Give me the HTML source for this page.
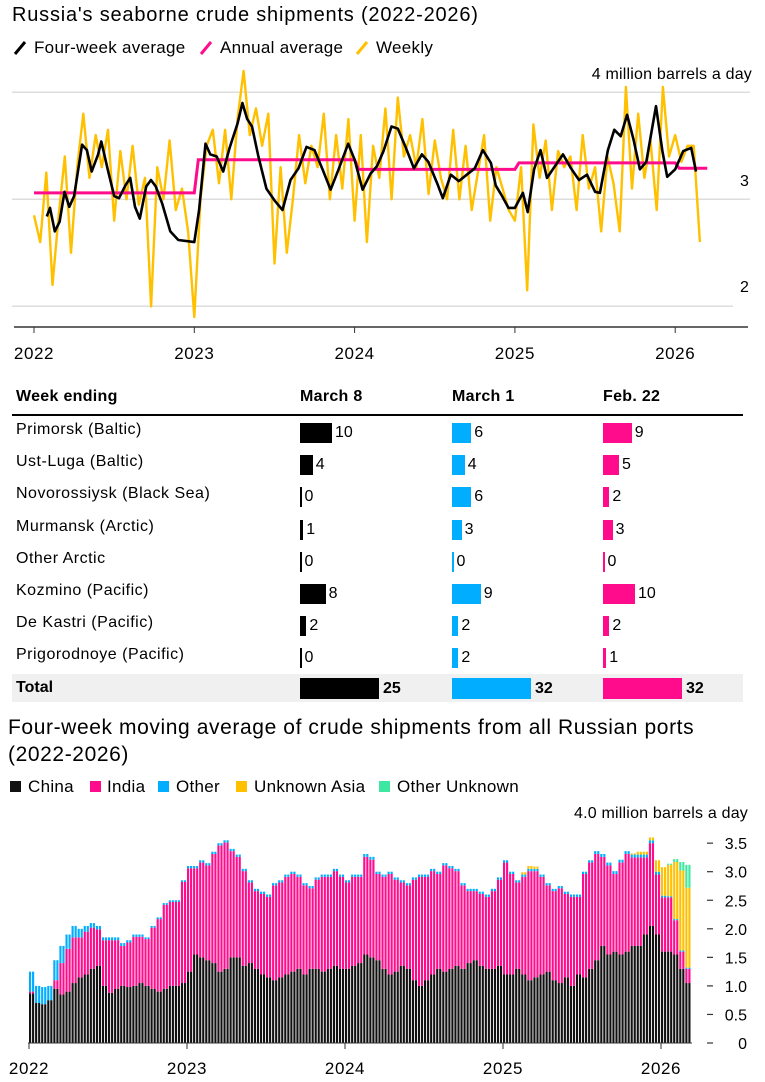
<!DOCTYPE html>
<html><head><meta charset="utf-8">
<style>
body{margin:0;width:765px;height:1082px;background:#fff;font-family:"Liberation Sans",sans-serif;color:#000;position:relative;overflow:hidden}
.t{position:absolute;white-space:nowrap}
svg{position:absolute;left:0;top:0}
</style></head><body>
<div class="t" style="left:12px;top:4px;font-size:20px;letter-spacing:0.8px">Russia's seaborne crude shipments (2022-2026)</div>
<div>
<svg width="765" height="60" style="top:0">
<line x1="15" y1="54" x2="25" y2="42" stroke="#000" stroke-width="3"/>
<line x1="201" y1="54" x2="211" y2="42" stroke="#ff0c8c" stroke-width="3"/>
<line x1="357" y1="54" x2="367" y2="42" stroke="#ffc000" stroke-width="3"/>
</svg>
<div class="t" style="left:34px;top:38px;font-size:17px;letter-spacing:0.3px">Four-week average</div>
<div class="t" style="left:220px;top:38px;font-size:17px;letter-spacing:0.3px">Annual average</div>
<div class="t" style="left:376px;top:38px;font-size:17px;letter-spacing:0.3px">Weekly</div>
</div>
<svg id="topchart" width="765" height="370"></svg>
<div class="t" style="right:13px;top:66px;font-size:16px;letter-spacing:0.2px">4 million barrels a day</div>
<div class="t" style="left:740px;top:173px;font-size:16px">3</div>
<div class="t" style="left:740px;top:279px;font-size:16px">2</div>

<div id="table"></div>

<div class="t" style="left:8px;top:714px;font-size:21px;letter-spacing:0.6px;line-height:27px">Four-week moving average of crude shipments from all Russian ports<br>(2022-2026)</div>
<div>
<div class="t" style="left:10px;top:781px;width:11px;height:11px;background:#111"></div>
<div class="t" style="left:28px;top:777px;font-size:17px;letter-spacing:0.3px">China</div>
<div class="t" style="left:90px;top:781px;width:11px;height:11px;background:#ff0c8c"></div>
<div class="t" style="left:107px;top:777px;font-size:17px;letter-spacing:0.3px">India</div>
<div class="t" style="left:158px;top:781px;width:11px;height:11px;background:#00adff"></div>
<div class="t" style="left:176px;top:777px;font-size:17px;letter-spacing:0.3px">Other</div>
<div class="t" style="left:236px;top:781px;width:11px;height:11px;background:#ffc000"></div>
<div class="t" style="left:254px;top:777px;font-size:17px;letter-spacing:0.3px">Unknown Asia</div>
<div class="t" style="left:379px;top:781px;width:11px;height:11px;background:#3ee8a0"></div>
<div class="t" style="left:397px;top:777px;font-size:17px;letter-spacing:0.3px">Other Unknown</div>
</div>
<div class="t" style="right:17px;top:805px;font-size:16px;letter-spacing:0.2px">4.0 million barrels a day</div>
<svg id="botchart" width="765" height="1082"></svg>

<script>
// ---- top chart data ----
const annualYears=[2022,2023,2024,2025,2026];
const annualVals=[3.06,3.37,3.28,3.34,3.29];
const avgDates=[2022.08,2022.1,2022.13,2022.16,2022.19,2022.22,2022.25,2022.3,2022.33,2022.36,2022.4,2022.42,2022.46,2022.5,2022.53,2022.57,2022.6,2022.63,2022.66,2022.7,2022.73,2022.76,2022.8,2022.85,2022.9,2023.0,2023.03,2023.07,2023.1,2023.14,2023.18,2023.22,2023.27,2023.3,2023.33,2023.36,2023.4,2023.45,2023.5,2023.55,2023.6,2023.65,2023.7,2023.75,2023.8,2023.85,2023.9,2023.96,2024.0,2024.05,2024.1,2024.14,2024.18,2024.23,2024.27,2024.32,2024.37,2024.42,2024.46,2024.52,2024.55,2024.6,2024.65,2024.7,2024.75,2024.8,2024.85,2024.88,2024.92,2024.96,2025.0,2025.05,2025.08,2025.12,2025.16,2025.2,2025.25,2025.3,2025.35,2025.4,2025.45,2025.5,2025.53,2025.58,2025.62,2025.66,2025.7,2025.74,2025.78,2025.82,2025.86,2025.88,2025.92,2025.95,2026.0,2026.05,2026.1,2026.13];
const avgVals=[2.84,2.92,2.70,2.79,3.07,2.93,3.03,3.51,3.46,3.26,3.42,3.54,3.28,3.03,3.01,3.13,3.20,2.93,2.82,3.12,3.18,3.12,2.96,2.70,2.62,2.60,2.90,3.52,3.42,3.40,3.26,3.48,3.71,3.90,3.75,3.68,3.40,3.10,2.99,2.90,3.18,3.29,3.49,3.46,3.28,3.09,3.28,3.52,3.37,3.09,3.24,3.31,3.45,3.68,3.66,3.48,3.29,3.42,3.35,3.13,3.01,3.23,3.17,3.23,3.29,3.46,3.34,3.13,3.03,2.92,2.92,3.06,2.88,3.28,3.46,3.20,3.31,3.42,3.29,3.18,3.23,3.07,3.06,3.46,3.65,3.59,3.79,3.56,3.28,3.35,3.70,3.87,3.45,3.21,3.28,3.45,3.48,3.26];
const weeklyVals=[2.85,2.6,3.25,2.2,2.85,3.4,2.5,3.3,3.8,3.2,3.6,3.3,3.65,2.8,3.45,3.0,3.5,2.95,3.2,2.0,3.3,3.0,3.55,2.9,3.1,2.7,
1.9,3.0,3.5,3.65,3.15,3.65,3.0,3.75,4.2,3.6,3.85,3.5,3.8,2.4,3.3,2.5,3.0,3.6,3.15,3.5,3.3,3.8,3.0,3.6,3.1,3.75,
2.8,3.6,2.6,3.5,3.2,3.85,3.0,3.95,3.4,3.6,3.3,3.75,3.05,3.55,3.2,3.0,3.65,3.0,3.5,2.9,3.25,3.6,2.8,3.3,3.1,2.9,
2.8,3.3,2.15,3.7,3.2,3.55,2.9,3.45,3.3,3.4,2.9,3.6,3.1,3.3,2.7,3.4,3.15,2.7,4.05,3.1,3.8,3.2,3.55,2.9,4.05,3.4,
3.6,3.35,3.5,3.5,2.6];
const yearTicks=[2022,2023,2024,2025,2026];

// ---- table data ----
const ports=["Primorsk (Baltic)","Ust-Luga (Baltic)","Novorossiysk (Black Sea)","Murmansk (Arctic)","Other Arctic","Kozmino (Pacific)","De Kastri (Pacific)","Prigorodnoye (Pacific)"];
const weekLabels=["March 8","March 1","Feb. 22"];
const mar8=[10,4,0,1,0,8,2,0];
const mar1=[6,4,6,3,0,9,2,2];
const feb22=[9,5,2,3,0,10,2,1];
const totals=[25,32,32];

// ---- bottom chart data (biweekly from 2022) ----
const china=[0.87,0.7,0.68,0.75,0.95,0.85,0.9,1.05,1.15,1.2,1.3,1.35,1.0,0.88,0.95,1.0,0.98,1.0,1.05,1.0,0.95,0.9,0.95,1.0,1.0,1.05,
1.25,1.55,1.5,1.45,1.4,1.25,1.3,1.5,1.5,1.35,1.4,1.3,1.2,1.15,1.1,1.15,1.2,1.25,1.3,1.2,1.3,1.3,1.25,1.3,1.35,1.3,
1.3,1.35,1.4,1.55,1.5,1.45,1.3,1.2,1.25,1.35,1.3,1.1,1.0,1.1,1.2,1.3,1.25,1.3,1.35,1.3,1.4,1.45,1.35,1.3,1.3,1.35,
1.2,1.2,1.3,1.2,1.1,1.15,1.2,1.25,1.1,1.05,1.15,1.0,1.2,1.15,1.3,1.45,1.7,1.55,1.6,1.55,1.6,1.7,1.7,1.9,2.05,1.9,
1.6,1.6,1.55,1.3,1.05];
const india=[0.03,0,0,0,0.15,0.55,0.75,0.8,0.7,0.75,0.72,0.64,0.8,0.92,0.85,0.7,0.78,0.86,0.81,0.82,1.07,1.27,1.47,1.47,1.47,1.77,
1.81,1.51,1.66,1.66,1.91,2.21,2.21,1.86,1.76,1.66,1.41,1.36,1.41,1.41,1.66,1.66,1.71,1.71,1.61,1.56,1.41,1.56,1.66,1.61,1.66,1.61,
1.51,1.56,1.51,1.71,1.71,1.51,1.61,1.76,1.61,1.46,1.46,1.76,1.91,1.81,1.81,1.66,1.86,1.76,1.66,1.46,1.26,1.21,1.26,1.26,1.36,1.51,
1.96,1.76,1.51,1.71,1.91,1.86,1.71,1.51,1.56,1.66,1.46,1.56,1.36,1.81,1.86,1.86,1.56,1.56,1.36,1.61,1.71,1.55,1.55,1.35,1.45,1.05,
0.95,0.95,0.6,0.3,0.25];
const other=[0.35,0.3,0.3,0.25,0.35,0.3,0.25,0.2,0.15,0.1,0.08,0.06,0.05,0.05,0.05,0.05,0.04,0.04,0.04,0.03,0.03,0.03,0.03,0.03,0.03,0.03,
0.04,0.04,0.04,0.04,0.04,0.04,0.04,0.04,0.04,0.04,0.04,0.04,0.04,0.04,0.04,0.04,0.04,0.04,0.04,0.04,0.04,0.04,0.04,0.04,0.04,0.04,
0.04,0.04,0.04,0.05,0.05,0.04,0.04,0.04,0.04,0.04,0.04,0.04,0.04,0.04,0.04,0.04,0.04,0.04,0.04,0.04,0.04,0.04,0.04,0.04,0.04,0.04,
0.04,0.04,0.04,0.04,0.04,0.04,0.04,0.04,0.04,0.04,0.04,0.04,0.04,0.04,0.04,0.05,0.05,0.05,0.05,0.05,0.05,0.05,0.05,0.05,0.05,0.05,
0.03,0.02,0.02,0.02,0.02];
const unkAsia=[0,0,0,0,0,0,0,0,0,0,0,0,0,0,0,0,0,0,0,0,0,0,0,0,0,0,
0,0,0,0,0,0,0,0,0,0,0,0,0,0,0,0,0,0,0,0,0,0,0,0,0,0,
0,0,0,0,0,0,0,0,0,0,0,0,0,0,0,0,0,0,0,0,0,0,0,0,0,0,
0,0,0,0.04,0.05,0.04,0,0,0,0,0,0,0,0,0,0,0,0,0,0,0,0.02,0.05,0.05,0.05,0.2,
0.5,0.55,1.0,1.4,1.4];
const otherUnk=[0,0,0,0,0,0,0,0,0,0,0,0,0,0,0,0,0,0,0,0,0,0,0,0,0,0,
0,0,0,0,0,0,0,0,0,0,0,0,0,0,0,0,0,0,0,0,0,0,0,0,0,0,
0,0,0,0,0,0,0,0,0,0,0,0,0,0,0,0,0,0,0,0,0,0,0,0,0,0,
0,0,0,0,0,0,0,0,0,0,0,0,0,0,0,0,0,0,0,0,0,0,0,0,0,0,
0,0.02,0.05,0.15,0.4];
const botTicks=["0","0.5","1.0","1.5","2.0","2.5","3.0","3.5"];

const NS="http://www.w3.org/2000/svg";
function mk(parent,tag,attrs,name){const e=document.createElementNS(NS,tag);for(const k in attrs)e.setAttribute(k,attrs[k]);


parent.appendChild(e);return e;}

// top chart
const topSvg=document.getElementById('topchart');
const tx=t=>34+(t-2022)*160.3;
const ty=v=>199.3-(v-3)*107;
[[4,750],[3,750],[2,733]].forEach(g=>mk(topSvg,'line',{x1:12,x2:g[1],y1:ty(g[0]),y2:ty(g[0]),stroke:'#ddd','stroke-width':1.5},'gridline'));
mk(topSvg,'line',{x1:14,x2:748,y1:327,y2:327,stroke:'#333','stroke-width':1.5},'x-axis');
yearTicks.forEach(y=>{mk(topSvg,'line',{x1:tx(y),x2:tx(y),y1:327,y2:333,stroke:'#333','stroke-width':1},'x-tick');
const t=mk(topSvg,'text',{x:tx(y),y:359,'text-anchor':'middle','font-size':17,'letter-spacing':0.6},'x-tick-label');t.textContent=y;});
let d=weeklyVals.map((v,i)=>(i?'L':'M')+tx(2022+i/26).toFixed(1)+','+ty(v).toFixed(1)).join('');
mk(topSvg,'path',{d:d,fill:'none',stroke:'#ffc000','stroke-width':2.4,'stroke-linejoin':'round'},'weekly-line');
let ad='';annualVals.forEach((v,i)=>{const x0=tx(annualYears[i])+(i?4:0),x1=i<4?tx(annualYears[i+1]):tx(2026.2);ad+=(i?'L':'M')+x0+','+ty(v)+'L'+x1+','+ty(v);});
mk(topSvg,'path',{d:ad,fill:'none',stroke:'#ff0c8c','stroke-width':3},'annual-average-line');
d=avgVals.map((v,i)=>(i?'L':'M')+tx(avgDates[i]).toFixed(1)+','+ty(v).toFixed(1)).join('');
mk(topSvg,'path',{d:d,fill:'none',stroke:'#000','stroke-width':2.6,'stroke-linejoin':'round'},'four-week-average-line');

// table
const tb=document.getElementById('table');
function div(style,text,name){const e=document.createElement('div');e.className='t';e.style.cssText=style;if(text!==undefined)e.textContent=text;


tb.appendChild(e);return e;}
div('left:12px;top:674px;width:731px;height:28px;background:#f0f0f0',undefined,'total-row-bg');
div('left:16px;top:388px;font-size:16px;font-weight:bold;letter-spacing:0.3px','Week ending','header-week-ending');
const colX=[300,452,603],cols=[mar8,mar1,feb22],colC=['#000','#00adff','#ff0c8c'];
weekLabels.forEach((w,i)=>div('left:'+colX[i]+'px;top:388px;font-size:16px;font-weight:bold;letter-spacing:0.3px',w,'header-col'));
div('left:12px;top:414px;width:731px;height:2px;background:#000',undefined,'header-rule');
ports.forEach((p,r)=>{const cy=433+r*32.2;
div('left:16px;top:'+(cy-12)+'px;font-size:16px;letter-spacing:0.5px',p,'port-label');
cols.forEach((c,k)=>{const w=c[r]?c[r]*3.2:1.5;
div('left:'+colX[k]+'px;top:'+(cy-10)+'px;width:'+w+'px;height:20px;background:'+colC[k],undefined,'port-bar');
div('left:'+(colX[k]+w+3)+'px;top:'+(cy-9)+'px;font-size:16px',c[r],'port-value');});});
div('left:16px;top:679px;font-size:16px;font-weight:bold','Total','total-label');
totals.forEach((v,k)=>{const w=Math.min(v*3.2,79);
div('left:'+colX[k]+'px;top:678px;width:'+w+'px;height:21px;background:'+colC[k],undefined,'total-bar');
div('left:'+(colX[k]+w+4)+'px;top:680px;font-size:16px;font-weight:bold',v,'total-value');});

// bottom chart
const botSvg=document.getElementById('botchart');
const bx=t=>29+(t-2022)*158;
const by=v=>1043-v*57.1;
botTicks.forEach(t=>{const v=parseFloat(t);
mk(botSvg,'line',{x1:707,x2:713,y1:by(v),y2:by(v),stroke:'#333','stroke-width':1.2},'y-tick');
const e=mk(botSvg,'text',{x:747,y:by(v)+6,'text-anchor':'end','font-size':16},'y-tick-label');e.textContent=t;});
const series=[china,india,other,unkAsia,otherUnk],sc=['#111','#ff0c8c','#00adff','#ffc000','#3ee8a0'];
const step=158/26;
china.forEach((_,i)=>{for(let h=0;h<2;h++){let base=0;const x=bx(2022+i/26)+h*step/2;
series.forEach((s,k)=>{const v=s[i];if(v>0){mk(botSvg,'rect',{x:x.toFixed(2),y:by(base+v).toFixed(2),width:(step/2-0.9).toFixed(2),height:(v*57.1).toFixed(2),fill:sc[k]},'bar-segment');}base+=v;});}});
mk(botSvg,'line',{x1:28,x2:692,y1:1043,y2:1043,stroke:'#333','stroke-width':1},'x-axis-bottom');
yearTicks.forEach(y=>{mk(botSvg,'line',{x1:bx(y),x2:bx(y),y1:1043,y2:1049,stroke:'#333','stroke-width':1},'x-tick');
const t=mk(botSvg,'text',{x:bx(y),y:1074,'text-anchor':'middle','font-size':17,'letter-spacing':0.6},'x-tick-label');t.textContent=y;});
</script>
</body></html>
